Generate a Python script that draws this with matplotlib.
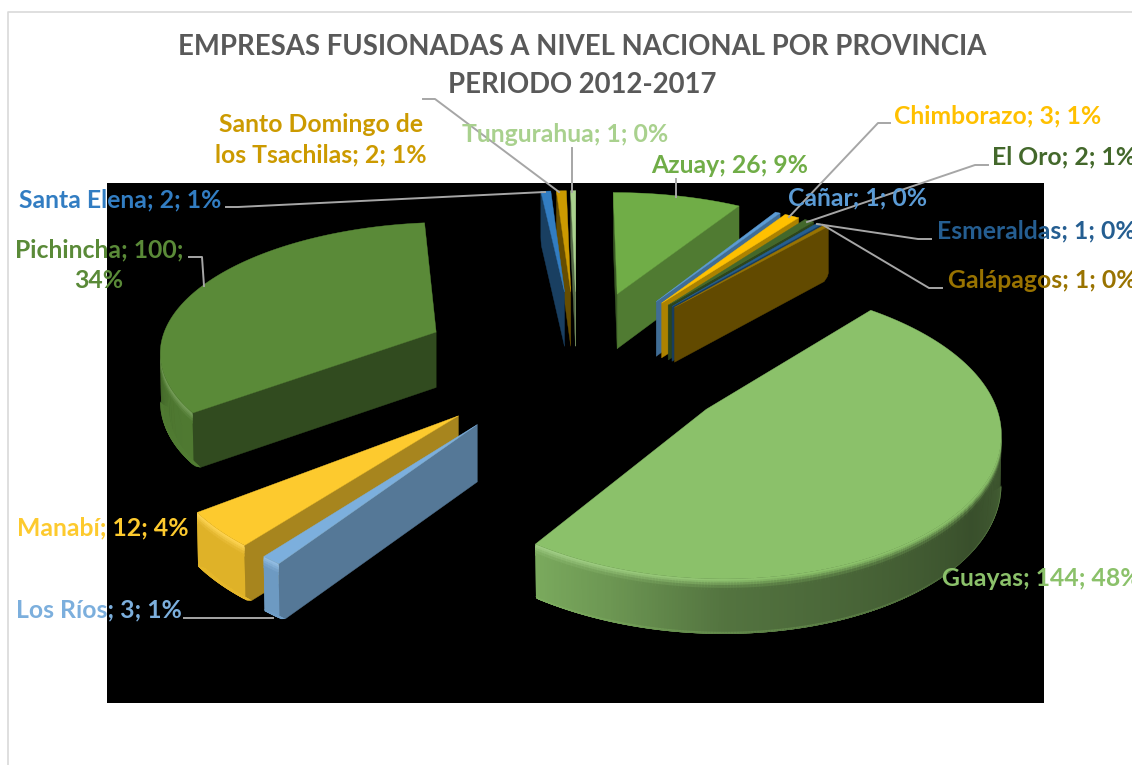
"""Exploded 3D pie: empresas fusionadas por provincia, 2012-2017."""

import numpy as np
import matplotlib
matplotlib.use("Agg")
import matplotlib.pyplot as plt
from matplotlib.colors import to_rgb
from matplotlib.patches import Rectangle

plt.rcParams["font.family"] = ["Lato", "DejaVu Sans"]

# data, clockwise from 12 o'clock
PROVINCES = ["Azuay", "Cañar", "Chimborazo", "El Oro", "Esmeraldas", "Galápagos",
             "Guayas", "Los Ríos", "Manabí", "Pichincha", "Santa Elena",
             "Santo Domingo de\nlos Tsachilas", "Tungurahua"]
COUNTS = [26, 1, 3, 2, 1, 1, 144, 3, 12, 100, 2, 2, 1]
COLORS = ["#70AD47", "#5B9BD5", "#FFC000", "#43682B", "#255E91", "#997300",
          "#8BC16A", "#7CAFDD", "#FDCA2E", "#5A8A38", "#327DC2", "#CC9A00", "#A9D18E"]
TITLE = "EMPRESAS FUSIONADAS A NIVEL NACIONAL POR PROVINCIA\nPERIODO 2012-2017"

# camera: pixels on the 1132x765 canvas
CX, CY = 577, 361
RX, RY = 279, 132
KX, KY = 0.115, 0.136
EXPLODE = 0.565
DEPTH = 56
GRAY = "#A6A6A6"

# label anchor per province: x, y, ha
LABEL_POS = [(651, 165, "left"), (788, 198, "left"), (894, 116, "left"), (992, 157, "left"),
             (937, 231, "left"), (948, 280, "left"), (942, 578, "left"), (16, 610, "left"),
             (17, 528, "left"), (99, 265, "center"), (19, 200, "left"), (321, 140, "center"),
             (462, 134, "left")]

LEADERS = [
    [(226, 207), (238, 207), (545, 192)],
    [(423, 99), (435, 99), (559, 192)],
    [(572, 148), (572, 192)],
    [(676, 179), (676, 197)],
    [(890, 123), (878, 123), (789, 217)],
    [(988, 165), (975, 165), (807, 222)],
    [(931, 239), (918, 239), (817, 224)],
    [(942, 288), (929, 288), (823, 225)],
    [(189, 257), (202, 257), (204, 286)],
    [(184, 618), (273, 618)],
]


def project(u, v, z=0.0):
    x = CX + RX * u / (1 + KX * v)
    y = CY - RY * v / (1 + KY * v) + z * DEPTH / (1 + 0.05 * v)
    return np.array([x, y])


def wall_shade(theta):
    # brightness of the outer wall by clockwise angle (light from the left)
    return np.interp(theta % 360, [0, 90, 125, 150, 180, 200, 215, 235, 265, 290, 360],
                     [0.6, 0.52, 0.41, 0.5, 0.6, 0.78, 0.88, 0.88, 0.82, 0.78, 0.6])


def face_shade(normal):
    return np.interp(normal % 360, [0, 90, 120, 130, 145, 180, 264, 360],
                     [0.55, 0.7, 0.72, 0.65, 0.53, 0.5, 0.5, 0.55])


def mix(a, b, t):
    return tuple(np.array(a) * (1 - t) + np.array(b) * t)


def faces_viewer(p, q, inner):
    # wall hangs straight down from edge p-q, so it shows when the top is on the far side
    d = q - p
    return (d[0] * (inner - p)[1] - d[1] * (inner - p)[0]) * d[0] < 0


def poly(ax, pts, color, z, lw=0.0):
    pts = np.array(pts)
    ax.fill(pts[:, 0], pts[:, 1], facecolor=color, edgecolor=color, linewidth=lw, zorder=z)


def draw_slice(ax, t0, t1, color, z):
    mid = np.radians((t0 + t1) / 2)
    ou, ov = EXPLODE * np.sin(mid), EXPLODE * np.cos(mid)
    base = to_rgb(color)

    def at(t, z_frac=0.0):
        # bottom edge is rounded: radius pulls in over the last part of the depth
        f = 1 - 0.03 * np.clip((z_frac - 0.88) / 0.12, 0, 1) ** 2
        return project(ou + f * np.sin(np.radians(t)), ov + f * np.cos(np.radians(t)), z_frac)

    thetas = np.linspace(t0, t1, max(2, int(t1 - t0) * 2 + 1))
    top = [project(ou, ov)] + [at(t) for t in thetas]
    inner = np.mean([top[0], top[1], top[-1]], axis=0)

    # flat cut faces
    for t, normal in ((t0, t0 - 90), (t1, t1 + 90)):
        p = project(ou, ov)
        if faces_viewer(p, at(t), inner):
            zs = [0, 0.88, 0.94, 1.0]
            poly(ax, [p] + [at(t, q) for q in zs] + [project(ou, ov, 1)],
                 tuple(np.array(base) * face_shade(normal)), z, lw=0.3)

    # curved outer wall with a soft bevel at both edges; strips overlap so no seams show
    levels = [0, 0.03, 0.06, 0.1, 0.15, 0.88, 0.92, 0.96, 1.0]
    for i in range(len(thetas) - 1):
        ta, tb = thetas[i], thetas[min(i + 2, len(thetas) - 1)]
        if not faces_viewer(at(thetas[i]), at(thetas[i + 1]), inner):
            continue
        wall = tuple(np.array(base) * wall_shade((thetas[i] + thetas[i + 1]) / 2))
        lit = np.clip((thetas[i] - 170) / 40, 0, 1) * 0.35
        lip = mix(base, (1, 1, 1), lit * 0.5)
        ramp = [lip, mix(lip, wall, 0.2), mix(lip, wall, 0.5), mix(lip, wall, 0.8),
                wall, mix(wall, base, 0.3), mix(wall, base, 0.3), mix(wall, base, 0.2)]
        for k in range(len(levels) - 1):
            lo = min(levels[k + 1] + 0.04, 1.0)
            poly(ax, [at(ta, levels[k]), at(tb, levels[k]), at(tb, lo), at(ta, lo)], ramp[k], z)

    poly(ax, top, base, z + 0.5, lw=0.3)


counts = np.array(COUNTS, dtype=float)
total = counts.sum()
stops = np.concatenate([[0], np.cumsum(counts)]) / total * 360

fig = plt.figure(figsize=(11.32, 7.65), dpi=100, facecolor="white")
ax = fig.add_axes([0, 0, 1, 1])
ax.set_xlim(0, 1132)
ax.set_ylim(765, 0)
ax.axis("off")

# chart frame and black plot area
ax.plot([8, 8, 1132], [765, 12, 12], color="#D9D9D9", lw=1.2, zorder=0)
ax.add_patch(Rectangle((107, 183), 937, 520, facecolor="black", edgecolor="none", zorder=1))

# painter's order: far slices first
mids = np.radians((stops[:-1] + stops[1:]) / 2)
for n, i in enumerate(np.argsort(-np.cos(mids))):
    draw_slice(ax, stops[i], stops[i + 1], COLORS[i], 2 + n)

for pts in LEADERS:
    xs, ys = zip(*pts)
    ax.plot(xs, ys, color=GRAY, lw=1.4, zorder=30)

for name, cnt, col, (x, y, ha) in zip(PROVINCES, COUNTS, COLORS, LABEL_POS):
    pct = round(cnt / total * 100)
    sep = ";\n" if name == "Pichincha" else "; "
    label = f"{name}; {cnt}{sep}{pct}%"
    ax.text(x, y, label, color=col, fontsize=17.8, fontweight="bold", ha=ha, va="center",
            linespacing=1.37, multialignment="center", zorder=31)

ax.text(582, 66, TITLE, color="#595959", fontsize=19.8, fontweight="bold", ha="center",
        va="center", linespacing=1.54, zorder=31)

fig.savefig("out.png", dpi=100, facecolor="white")
